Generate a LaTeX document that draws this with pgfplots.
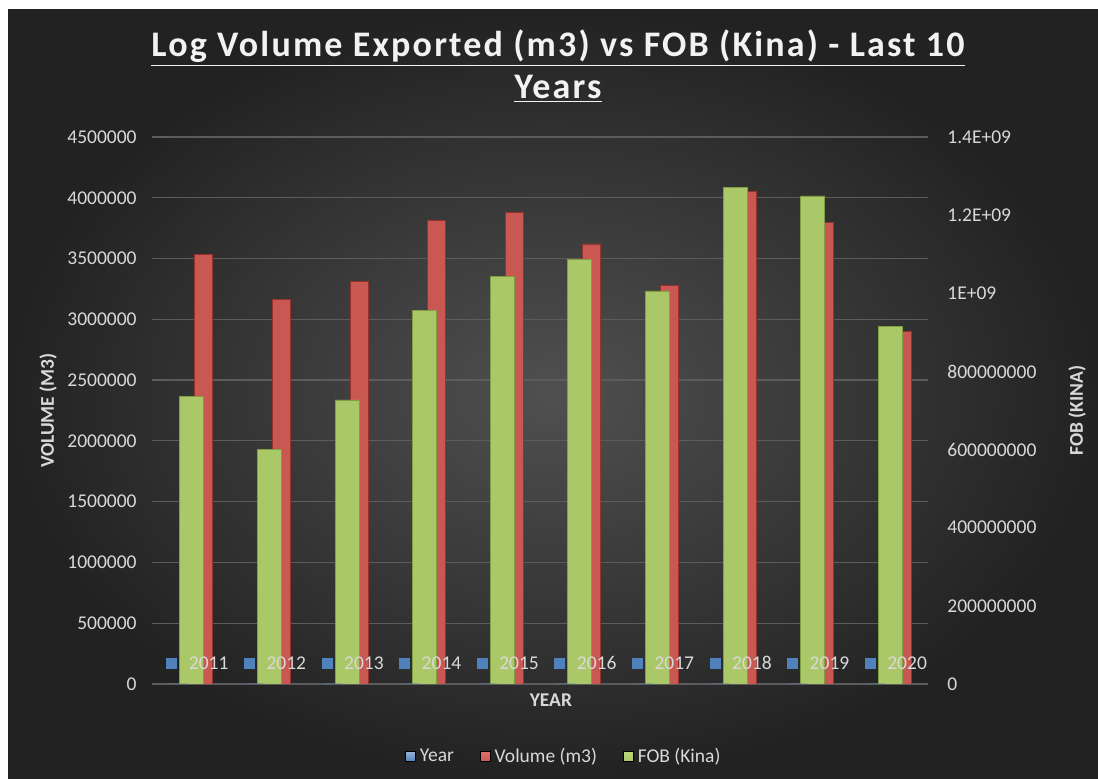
\documentclass[border=0pt]{standalone}
\usepackage{pgfplots}
\pgfplotsset{compat=1.18}
\usepackage{fontspec}
\setmainfont{Carlito}
\newfontfamily\titlefont[LetterSpace=6]{Carlito}
\definecolor{bginner}{RGB}{80,80,80}
\definecolor{bgouter}{RGB}{34,34,34}
\definecolor{gridc}{RGB}{92,92,92}
\definecolor{tickc}{RGB}{217,217,217}
\definecolor{titlec}{RGB}{242,242,242}
\definecolor{yearblue}{RGB}{79,129,189}
\definecolor{redF}{RGB}{201,88,82}
\definecolor{redD}{RGB}{150,50,46}
\definecolor{redM}{RGB}{218,112,105}
\definecolor{grnF}{RGB}{170,200,103}
\definecolor{grnD}{RGB}{128,158,66}
\definecolor{grnM}{RGB}{186,214,122}
\pgfplotsset{
  basepos/.style={at={(76pt,47.5pt)}, anchor=south west, width=388pt, height=273.5pt, scale only axis,
    xmin=-0.5, xmax=9.5, scaled ticks=false, xtick=\empty, axis line style={draw=none}, major tick length=0pt},
}
\begin{document}
\begin{tikzpicture}
\useasboundingbox (0pt,0pt) rectangle (549pt,389.5pt);
\fill[white] (0pt,0pt) rectangle (549pt,389.5pt);
\shade[inner color=bginner, outer color=bgouter] (4pt,0pt) rectangle (549pt,384.5pt);
\node[anchor=base, text=titlec, inner sep=0pt, font=\titlefont\bfseries\fontsize{18}{20}\selectfont] at (279pt,361.2pt) {\underline{Log Volume Exported (m3) vs FOB (Kina) - Last 10}};
\node[anchor=base, text=titlec, inner sep=0pt, font=\titlefont\bfseries\fontsize{18}{20}\selectfont] at (279pt,340.3pt) {\underline{Years}};

% primary axis: Volume (m3)
\begin{axis}[basepos, ymin=0, ymax=4500000,
  ytick={0,500000,1000000,1500000,2000000,2500000,3000000,3500000,4000000,4500000},
  yticklabels={0,500000,1000000,1500000,2000000,2500000,3000000,3500000,4000000,4500000},
  ymajorgrids, grid style={gridc, line width=0.6pt},
  yticklabel style={text=tickc, font=\fontsize{9.75}{11}\selectfont, anchor=east, inner sep=0pt, xshift=-7.5pt},
  ylabel={VOLUME (M3)},
  ylabel style={at={(axis description cs:-0.134,0.5)}, anchor=center, text=tickc, font=\bfseries\fontsize{9.75}{11}\selectfont},
  xlabel={YEAR},
  xlabel style={at={(axis description cs:0.514,-0.029)}, anchor=center, text=tickc, font=\bfseries\fontsize{9.75}{11}\selectfont},
]
\addplot[ybar, bar width=9pt, bar shift=6.5pt, fill=redF, draw=redD, line width=0.4pt]
  coordinates {(0,3530000) (1,3160000) (2,3310000) (3,3810000) (4,3880000) (5,3620000) (6,3280000) (7,4050000) (8,3800000) (9,2900000)};
\end{axis}

% secondary axis: FOB (Kina)
\begin{axis}[basepos, ymin=0, ymax=1400000000,
  axis y line*=right, hide x axis,
  ytick={0,200000000,400000000,600000000,800000000,1000000000,1200000000,1400000000},
  yticklabels={0,200000000,400000000,600000000,800000000,1E+09,1.2E+09,1.4E+09},
  yticklabel style={text=tickc, font=\fontsize{9.75}{11}\selectfont, anchor=west, inner sep=0pt, xshift=9.5pt},
  ylabel={FOB (KINA)},
  ylabel style={at={(axis description cs:1.192,0.5)}, anchor=center, rotate=0, text=tickc, font=\bfseries\fontsize{9.75}{11}\selectfont},
  legend style={at={(axis description cs:0.532,-0.133)}, anchor=center, draw=none, fill=none, text=tickc, font=\fontsize{9.75}{11}\selectfont, legend columns=3, /tikz/every even column/.append style={column sep=11pt}},
  legend cell align=left,
]
\addlegendimage{legend image code/.code={\shade[top color=yearblue!60!white, bottom color=yearblue] (0pt,-2.5pt) rectangle (5pt,2.5pt);}}
\addlegendentry{Year}
\addlegendimage{legend image code/.code={\shade[top color=redM, bottom color=redF] (0pt,-2.5pt) rectangle (5pt,2.5pt);}}
\addlegendentry{Volume (m3)}
\addlegendimage{legend image code/.code={\shade[top color=grnM, bottom color=grnF] (0pt,-2.5pt) rectangle (5pt,2.5pt);}}
\addlegendentry{FOB (Kina)}
\addplot[ybar, bar width=12pt, bar shift=0.5pt, fill=grnF, draw=grnD, line width=0.4pt, forget plot]
  coordinates {(0,735000000) (1,601000000) (2,727000000) (3,955000000) (4,1044000000) (5,1087000000) (6,1006000000) (7,1270000000) (8,1249000000) (9,915000000)};
\end{axis}

% primary scale again, for the Year series and its labels drawn on top
\begin{axis}[basepos, ymin=0, ymax=4500000, hide axis]
\addplot[ybar, bar width=9pt, bar shift=-6.5pt, fill=yearblue, draw=none,
  point meta=explicit symbolic,
  nodes near coords={\textcolor{yearblue}{\rule{5.5pt}{5.5pt}}\hspace{5.8pt}\pgfplotspointmeta},
  every node near coord/.append style={anchor=center, xshift=3.3pt, yshift=10.5pt, text=tickc, inner sep=0pt, font=\fontsize{9.75}{11}\selectfont}]
  coordinates {(0,2011)[2011] (1,2012)[2012] (2,2013)[2013] (3,2014)[2014] (4,2015)[2015] (5,2016)[2016] (6,2017)[2017] (7,2018)[2018] (8,2019)[2019] (9,2020)[2020]};
\end{axis}
\end{tikzpicture}
\end{document}
